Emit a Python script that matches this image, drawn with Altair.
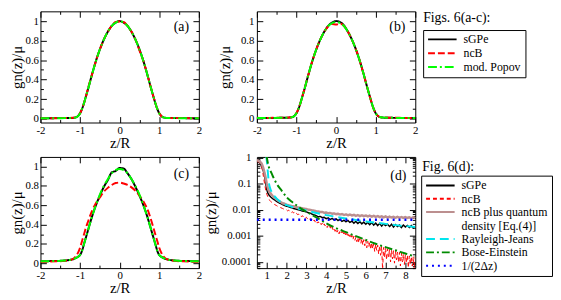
import altair as alt
import pandas as pd

FONT = "Liberation Serif"
W, H = 161, 113

# ---------------- panels (a)-(c) ----------------
z_abc = [-2.0, -1.8, -1.6, -1.4, -1.2, -1.1, -1.05, -1.0, -0.95, -0.9, -0.85, -0.8,
         -0.7, -0.6, -0.5, -0.4, -0.3, -0.2, -0.1, 0.0, 0.1, 0.2, 0.3, 0.4, 0.5, 0.6,
         0.7, 0.8, 0.85, 0.9, 0.95, 1.0, 1.05, 1.1, 1.2, 1.4, 1.6, 1.8, 2.0]

a_sgpe = [0.004, 0.004, 0.005, 0.005, 0.007, 0.014, 0.028, 0.055, 0.10, 0.16, 0.23, 0.30,
          0.45, 0.59, 0.71, 0.81, 0.89, 0.95, 0.985, 1.0, 0.985, 0.95, 0.89, 0.81, 0.71, 0.59,
          0.45, 0.30, 0.23, 0.16, 0.10, 0.055, 0.028, 0.014, 0.007, 0.005, 0.005, 0.004, 0.004]
a_ncb = [0.005, 0.004, 0.004, 0.006, 0.008, 0.015, 0.030, 0.056, 0.10, 0.16, 0.23, 0.31,
         0.45, 0.59, 0.71, 0.81, 0.89, 0.95, 0.99, 0.995, 0.99, 0.95, 0.89, 0.81, 0.70, 0.59,
         0.45, 0.30, 0.23, 0.16, 0.10, 0.054, 0.027, 0.013, 0.007, 0.005, 0.006, 0.004, 0.005]
a_popov = [0.004, 0.004, 0.004, 0.005, 0.006, 0.013, 0.027, 0.053, 0.10, 0.16, 0.23, 0.30,
           0.45, 0.59, 0.71, 0.81, 0.89, 0.95, 0.985, 0.997, 0.985, 0.95, 0.89, 0.81, 0.71, 0.59,
           0.45, 0.30, 0.23, 0.16, 0.10, 0.053, 0.027, 0.013, 0.006, 0.005, 0.004, 0.004, 0.004]

b_sgpe = [0.007, 0.007, 0.007, 0.008, 0.010, 0.016, 0.030, 0.056, 0.10, 0.16, 0.23, 0.30,
          0.45, 0.59, 0.71, 0.81, 0.89, 0.95, 0.985, 1.0, 0.99, 0.955, 0.89, 0.81, 0.71, 0.59,
          0.45, 0.30, 0.23, 0.16, 0.10, 0.056, 0.030, 0.016, 0.010, 0.008, 0.007, 0.007, 0.007]
b_ncb = [0.008, 0.007, 0.008, 0.009, 0.011, 0.017, 0.031, 0.058, 0.10, 0.16, 0.23, 0.30,
         0.45, 0.59, 0.71, 0.81, 0.89, 0.945, 0.97, 0.965, 0.975, 0.95, 0.89, 0.81, 0.71, 0.59,
         0.45, 0.30, 0.23, 0.16, 0.10, 0.057, 0.031, 0.017, 0.011, 0.009, 0.008, 0.007, 0.008]
b_popov = [0.007, 0.007, 0.007, 0.008, 0.010, 0.016, 0.029, 0.055, 0.10, 0.16, 0.23, 0.30,
           0.45, 0.59, 0.71, 0.81, 0.89, 0.95, 0.98, 0.99, 0.98, 0.95, 0.89, 0.81, 0.71, 0.59,
           0.45, 0.30, 0.23, 0.16, 0.10, 0.055, 0.029, 0.016, 0.010, 0.008, 0.007, 0.007, 0.007]

c_sgpe = [0.020, 0.022, 0.024, 0.028, 0.040, 0.055, 0.068, 0.085, 0.13, 0.20, 0.27, 0.34,
          0.48, 0.60, 0.70, 0.79, 0.86, 0.94, 0.955, 0.985, 0.98, 0.93, 0.87, 0.79, 0.70, 0.60,
          0.48, 0.34, 0.27, 0.20, 0.13, 0.085, 0.068, 0.055, 0.040, 0.028, 0.024, 0.022, 0.020]
c_ncb = [0.015, 0.017, 0.020, 0.025, 0.040, 0.075, 0.11, 0.16, 0.23, 0.30, 0.37, 0.43,
         0.54, 0.62, 0.68, 0.74, 0.78, 0.81, 0.83, 0.835, 0.825, 0.81, 0.785, 0.75, 0.70, 0.64,
         0.56, 0.44, 0.37, 0.30, 0.23, 0.16, 0.11, 0.075, 0.040, 0.025, 0.020, 0.017, 0.015]
c_popov = [0.020, 0.022, 0.024, 0.028, 0.040, 0.055, 0.068, 0.085, 0.13, 0.20, 0.27, 0.34,
           0.48, 0.60, 0.71, 0.80, 0.87, 0.93, 0.965, 0.975, 0.965, 0.93, 0.87, 0.80, 0.71, 0.60,
           0.48, 0.34, 0.27, 0.20, 0.13, 0.085, 0.068, 0.055, 0.040, 0.028, 0.024, 0.022, 0.020]

# ---------------- panel (d) ----------------
zd_fine = [0.5, 0.55, 0.6, 0.65, 0.7, 0.75, 0.8, 0.85, 0.9, 0.95, 1.0, 1.05, 1.1, 1.2, 1.3, 1.4,
           1.5, 1.6, 1.7, 1.8, 1.9, 2.0, 2.1, 2.2, 2.3, 2.4,
           2.5, 2.6, 2.7, 2.8, 2.9, 3.0, 3.1, 3.2, 3.3, 3.4,
           3.5, 3.6, 3.7, 3.8, 3.9, 4.0, 4.1, 4.2, 4.3, 4.4,
           4.5, 4.6, 4.7, 4.8, 4.9, 5.0, 5.1, 5.2, 5.3, 5.4,
           5.5, 5.6, 5.7, 5.8, 5.9, 6.0, 6.1, 6.2, 6.3, 6.4,
           6.5, 6.6, 6.7, 6.8, 6.9, 7.0, 7.1, 7.2, 7.3, 7.4,
           7.5, 7.6, 7.7, 7.8, 7.9, 8.0, 8.1, 8.2, 8.3, 8.4, 8.5]
d_sgpe = [0.76, 0.74, 0.70, 0.64, 0.55, 0.45, 0.36, 0.27, 0.18, 0.10, 0.06, 0.045, 0.038, 0.031, 0.027, 0.024,
          0.021, 0.019, 0.0175, 0.016, 0.0148, 0.0138, 0.0132, 0.0124, 0.0118, 0.0110,
          0.0106, 0.0100, 0.0097, 0.0090, 0.0088, 0.0084, 0.0078, 0.0074, 0.0068, 0.0064,
          0.0060, 0.0054, 0.0056, 0.0050, 0.0052, 0.0046, 0.0049, 0.0043, 0.0047, 0.0041,
          0.0045, 0.0039, 0.0043, 0.0036, 0.0040, 0.0035, 0.0039, 0.0033, 0.0037, 0.0031,
          0.0036, 0.0030, 0.0035, 0.0029, 0.0034, 0.0028, 0.0033, 0.0027, 0.0032, 0.0026,
          0.0031, 0.0025, 0.0030, 0.0024, 0.0029, 0.0025, 0.0028, 0.0023, 0.0028, 0.0022,
          0.0027, 0.0023, 0.0026, 0.0021, 0.0026, 0.0022, 0.0025, 0.0021, 0.0025, 0.0020, 0.0023]
d_quantum = [0.80, 0.79, 0.76, 0.72, 0.66, 0.58, 0.46, 0.34, 0.24, 0.16, 0.10, 0.07, 0.055, 0.042, 0.034, 0.029,
             0.025, 0.022, 0.020, 0.018, 0.0172, 0.016, 0.0152, 0.0145, 0.0138, 0.0134,
             0.0128, 0.0124, 0.0118, 0.0115, 0.0110, 0.0108, 0.0102, 0.0100, 0.0095, 0.0093,
             0.0088, 0.0087, 0.0082, 0.0083, 0.0078, 0.0079, 0.0074, 0.0076, 0.0071, 0.0073,
             0.0068, 0.0071, 0.0066, 0.0069, 0.0064, 0.0067, 0.0062, 0.0066, 0.0061, 0.0064,
             0.0059, 0.0063, 0.0058, 0.0062, 0.0057, 0.0061, 0.0056, 0.0060, 0.0055, 0.0059,
             0.0054, 0.0058, 0.0053, 0.0057, 0.0052, 0.0056, 0.0051, 0.0055, 0.0051, 0.0054,
             0.0050, 0.0054, 0.0050, 0.0053, 0.0049, 0.0053, 0.0049, 0.0052, 0.0048, 0.0052, 0.0049]

zd_ncb = [0.5, 0.55, 0.6, 0.65, 0.7, 0.75, 0.8, 0.85, 0.9, 0.95, 1.0, 1.05, 1.1, 1.15, 1.2, 1.3, 1.4,
          1.5, 1.6, 1.7, 1.8, 1.9,
          2.0, 2.05, 2.1, 2.15, 2.2, 2.25, 2.3, 2.35, 2.4, 2.45,
          2.5, 2.55, 2.6, 2.65, 2.7, 2.75, 2.8, 2.85, 2.9, 2.95,
          3.0, 3.05, 3.1, 3.15, 3.2, 3.25, 3.3, 3.35, 3.4, 3.45,
          3.5, 3.55, 3.6, 3.65, 3.7, 3.75, 3.8, 3.85, 3.9, 3.95,
          4.0, 4.05, 4.1, 4.15, 4.2, 4.25, 4.3, 4.35, 4.4, 4.45,
          4.5, 4.55, 4.6, 4.65, 4.7, 4.75, 4.8, 4.85, 4.9, 4.95,
          5.0, 5.05, 5.1, 5.15, 5.2, 5.25, 5.3, 5.35, 5.4, 5.45,
          5.5, 5.55, 5.6, 5.65, 5.7, 5.75, 5.8, 5.85, 5.9, 5.95,
          6.0, 6.05, 6.1, 6.15, 6.2, 6.25, 6.3, 6.35, 6.4, 6.45,
          6.5, 6.55, 6.6, 6.65, 6.7, 6.75, 6.8, 6.85, 6.9, 6.95,
          7.0, 7.05, 7.1, 7.15, 7.2, 7.25, 7.3, 7.35, 7.4, 7.45,
          7.5, 7.55, 7.6, 7.65, 7.7, 7.75, 7.8, 7.85, 7.9, 7.95,
          8.0, 8.05, 8.1, 8.15, 8.2, 8.25, 8.3, 8.35, 8.4, 8.45, 8.5]
d_ncb = [0.72, 0.71, 0.68, 0.63, 0.55, 0.42, 0.27, 0.15, 0.09, 0.055, 0.040, 0.032, 0.027, 0.023, 0.021, 0.018, 0.016,
         0.0145, 0.013, 0.0122, 0.0113, 0.0104,
         0.0100, 0.0092, 0.0098, 0.0088, 0.0090, 0.0079, 0.0085, 0.0076, 0.0080, 0.0070,
         0.0074, 0.0066, 0.0069, 0.0061, 0.0064, 0.0055, 0.0060, 0.0053, 0.0056, 0.0048,
         0.0052, 0.0046, 0.0050, 0.0043, 0.0046, 0.0040, 0.0044, 0.0037, 0.0041, 0.0034,
         0.0038, 0.0031, 0.0035, 0.0030, 0.0033, 0.0027, 0.0031, 0.0025, 0.0029, 0.0024,
         0.0027, 0.0021, 0.0025, 0.0020, 0.0024, 0.0018, 0.0022, 0.0017, 0.0020, 0.0015,
         0.0019, 0.0014, 0.0017, 0.0012, 0.0016, 0.0013, 0.0015, 0.0011, 0.0014, 0.0010,
         0.0013, 0.00095, 0.0012, 0.00085, 0.0011, 0.0008, 0.00105, 0.00072, 0.00098, 0.00068,
         0.0009, 0.0006, 0.00088, 0.00055, 0.0008, 0.00052, 0.00078, 0.00045, 0.00072, 0.00042,
         0.00068, 0.00035, 0.00062, 0.00038, 0.00058, 0.0003, 0.00055, 0.00032, 0.0005, 0.00025,
         0.00048, 0.00028, 0.00044, 0.0002, 0.00042, 0.00018, 0.0004, 0.00005, 0.00036, 0.00015,
         0.00034, 0.00012, 0.00032, 0.00016, 0.0003, 0.0001, 0.00028, 0.00013, 0.00027, 0.00009,
         0.00026, 0.00012, 0.00024, 0.0001, 0.00023, 0.00007, 0.00022, 0.0001, 0.0002, 0.00008,
         0.00019, 0.00009, 0.00018, 0.00006, 0.00017, 0.00008, 0.00016, 0.00007, 0.00016, 0.00005,
         0.00015]

zd_rj = [0.97, 1.0, 1.05, 1.1, 1.15, 1.2, 1.3, 1.4, 1.5, 1.75, 2.0, 2.5, 3.0, 3.5, 4.0, 4.5,
         5.0, 5.5, 6.0, 6.5, 7.0, 7.5, 8.0, 8.5]
d_rj = [1.2, 0.8, 0.3, 0.12, 0.075, 0.058, 0.042, 0.033, 0.027, 0.019, 0.0152, 0.0116, 0.0094,
        0.0076, 0.0063, 0.0054, 0.0047, 0.0041, 0.0036, 0.0032, 0.0029, 0.0026, 0.0024, 0.0022]

zd_be = [0.99, 1.05, 1.1, 1.2, 1.3, 1.4, 1.5, 1.75, 2.0, 2.25, 2.5, 2.75, 3.0, 3.5, 4.0, 4.5,
         5.0, 5.5, 6.0, 6.5, 7.0, 7.5, 8.0, 8.5]
d_be = [1.2, 0.65, 0.45, 0.30, 0.20, 0.14, 0.10, 0.055, 0.031, 0.021, 0.015, 0.011, 0.0085,
        0.0051, 0.0031, 0.0020, 0.0014, 0.00098, 0.0007, 0.0005, 0.00037, 0.00028, 0.00021, 0.00016]

zd_dz = [0.5, 8.5]
d_dz = [0.0042, 0.0042]

# ---------------- styles ----------------
names_abc = ["sGPe", "ncB", "mod. Popov"]
colors_abc = ["#000000", "#ff0000", "#00ff00"]
dashes_abc = [[1, 0], [7, 3], [9, 3, 2, 3]]

names_d = ["sGPe", "ncB", "ncB plus quantum density [Eq.(4)]", "Rayleigh-Jeans",
           "Bose-Einstein", "1/(2Δz)"]
colors_d = ["#000000", "#ff0000", "#bc8f8f", "#00e5ee", "#008b00", "#0000ff"]
dashes_d = [[1, 0], [4, 3], [1, 0], [9, 5], [8, 3, 2, 3], [2, 4]]

xt_abc = [-2, -1, 0, 1, 2]
xm_abc = [-1.5, -0.5, 0.5, 1.5]
yt_abc = [0, 0.2, 0.4, 0.6, 0.8, 1]
ym_abc = [0.1, 0.3, 0.5, 0.7, 0.9]
xt_d = [1, 2, 3, 4, 5, 6, 7, 8]
xm_d = [1.5, 2.5, 3.5, 4.5, 5.5, 6.5, 7.5]
yt_d = [0.0001, 0.001, 0.01, 0.1, 1]
ym_d = [0.00006, 0.00007, 0.00008, 0.00009,
        0.0002, 0.0003, 0.0004, 0.0005, 0.0006, 0.0007, 0.0008, 0.0009,
        0.002, 0.003, 0.004, 0.005, 0.006, 0.007, 0.008, 0.009,
        0.02, 0.03, 0.04, 0.05, 0.06, 0.07, 0.08, 0.09,
        0.2, 0.3, 0.4, 0.5, 0.6, 0.7, 0.8, 0.9]


def tick_axis(orient, values, size):
    return alt.Axis(orient=orient, values=values, tickSize=size, offset=-size, domain=False,
                    grid=False, labels=False, title=None, tickColor="black", tickWidth=1)


def main_axis(orient, values, title, label_pad, title_pad):
    return alt.Axis(orient=orient, values=values, tickSize=6, offset=-6, domain=False, grid=False,
                    labels=True, labelExpr="'' + datum.value", labelPadding=label_pad,
                    title=title, titlePadding=title_pad, tickColor="black", tickWidth=1,
                    labelFontSize=11, titleFontSize=15, labelFont=FONT, titleFont=FONT,
                    titleFontWeight="normal", labelColor="black", titleColor="black",
                    labelFlush=False, labelOverlap=False)


def text_layer(txt, x, y, size, align):
    return alt.Chart(pd.DataFrame({"t": [txt]})).mark_text(
        font=FONT, fontSize=size, align=align, baseline="middle", color="black"
    ).encode(text="t:N", x=alt.value(x), y=alt.value(y))


def panel(series, names, colors, dashes, xs, ys, xt, xm, yt, ym, ylab_pad, ytitle_pad,
          tag, tag_xy, legend=None, ltitle=None, ltitle_xy=None):
    cs = alt.Scale(domain=names, range=colors)
    ds = alt.Scale(domain=names, range=dashes)
    layers = []
    for i, (z, v, name, w, interp) in enumerate(series):
        df = pd.DataFrame({"z": z, "v": v, "series": name})
        xa = main_axis("bottom", xt, "z/R", 2, 0) if i == 0 else None
        ya = main_axis("left", yt, "gn(z)/μ", ylab_pad, ytitle_pad) if i == 0 else None
        layers.append(
            alt.Chart(df).mark_line(strokeWidth=w, clip=True, interpolate=interp).encode(
                x=alt.X("z:Q", scale=xs, axis=xa),
                y=alt.Y("v:Q", scale=ys, axis=ya),
                color=alt.Color("series:N", scale=cs, legend=legend),
                strokeDash=alt.StrokeDash("series:N", scale=ds, legend=legend),
            )
        )
    base = pd.DataFrame({"z": series[0][0][:2], "v": series[0][1][:2]})
    for xo, yo, xv, yv, s in [("top", "right", xt, yt, 6),
                              ("bottom", "left", xm, ym, 3),
                              ("top", "right", xm, ym, 3)]:
        layers.append(
            alt.Chart(base).mark_line(opacity=0).encode(
                x=alt.X("z:Q", scale=xs, axis=tick_axis(xo, xv, s)),
                y=alt.Y("v:Q", scale=ys, axis=tick_axis(yo, yv, s)),
            )
        )
    layers.append(text_layer(tag, tag_xy[0], tag_xy[1], 14, "right"))
    if ltitle is not None:
        layers.append(text_layer(ltitle, ltitle_xy[0], ltitle_xy[1], 14, "left"))
    return alt.layer(*layers).resolve_axis(x="independent", y="independent").properties(
        width=W, height=H)


def make_legend(x, y, clip_h, row_pad, label_expr=None):
    kw = dict(title=None, orient="none", legendX=x, legendY=y, direction="vertical",
              strokeColor="black", fillColor="white", padding=4, rowPadding=row_pad,
              symbolType="stroke", symbolSize=841, symbolStrokeWidth=2, clipHeight=clip_h,
              labelFont=FONT, labelFontSize=12, labelColor="black", labelOffset=6,
              labelLimit=300)
    if label_expr is not None:
        kw["labelExpr"] = label_expr
    return alt.Legend(**kw)


xs_abc = alt.Scale(domain=[-2, 2], nice=False, zero=False)
ys_ab = alt.Scale(domain=[-0.04, 1.1], nice=False, zero=False)
ys_c = alt.Scale(domain=[-0.05, 1.1], nice=False, zero=False)
xs_d = alt.Scale(domain=[0.5, 8.5], nice=False, zero=False)
ys_d = alt.Scale(type="log", domain=[0.000058, 1.08], nice=False)

w_abc = 2
pa = panel([(z_abc, a_sgpe, "sGPe", w_abc, "monotone"),
            (z_abc, a_ncb, "ncB", w_abc, "monotone"),
            (z_abc, a_popov, "mod. Popov", w_abc, "monotone")],
           names_abc, colors_abc, dashes_abc, xs_abc, ys_ab, xt_abc, xm_abc, yt_abc, ym_abc,
           2, 1, "(a)", (W - 10, 16))
pb = panel([(z_abc, b_sgpe, "sGPe", w_abc, "monotone"),
            (z_abc, b_ncb, "ncB", w_abc, "monotone"),
            (z_abc, b_popov, "mod. Popov", w_abc, "monotone")],
           names_abc, colors_abc, dashes_abc, xs_abc, ys_ab, xt_abc, xm_abc, yt_abc, ym_abc,
           3, 8, "(b)", (W - 10, 16),
           legend=make_legend(W + 8, 19, 11, 1), ltitle="Figs. 6(a-c):", ltitle_xy=(W + 8, 7))
pc = panel([(z_abc, c_sgpe, "sGPe", w_abc, "monotone"),
            (z_abc, c_ncb, "ncB", w_abc, "monotone"),
            (z_abc, c_popov, "mod. Popov", w_abc, "monotone")],
           names_abc, colors_abc, dashes_abc, xs_abc, ys_c, xt_abc, xm_abc, yt_abc, ym_abc,
           2, 1, "(c)", (W - 10, 17))
split = ("datum.label == 'ncB plus quantum density [Eq.(4)]' ? "
         "['ncB plus quantum', 'density [Eq.(4)]'] : datum.label")
pd_ = panel([(zd_fine, d_sgpe, "sGPe", 1.5, "linear"),
             (zd_ncb, d_ncb, "ncB", 1, "linear"),
             (zd_fine, d_quantum, "ncB plus quantum density [Eq.(4)]", 2.5, "linear"),
             (zd_rj, d_rj, "Rayleigh-Jeans", 2, "monotone"),
             (zd_be, d_be, "Bose-Einstein", 2, "monotone"),
             (zd_dz, d_dz, "1/(2Δz)", 2.5, "linear")],
            names_d, colors_d, dashes_d, xs_d, ys_d, xt_d, xm_d, yt_d, ym_d,
            6, 3, "(d)", (W - 9, 19),
            legend=make_legend(W + 6, 19, 12, 1.5, split), ltitle="Fig. 6(d):",
            ltitle_xy=(W + 7, 10))

chart = alt.concat(pa, pb, pc, pd_, columns=2, spacing={"row": 0, "column": 0}).resolve_scale(
    color="independent", strokeDash="independent"
).properties(
    padding={"left": 0, "right": 0, "top": 0, "bottom": 0}, background="white"
).configure(font=FONT).configure_view(stroke="black", strokeWidth=1)

chart.save("out.html", embed_options={"renderer": "svg", "actions": False})
